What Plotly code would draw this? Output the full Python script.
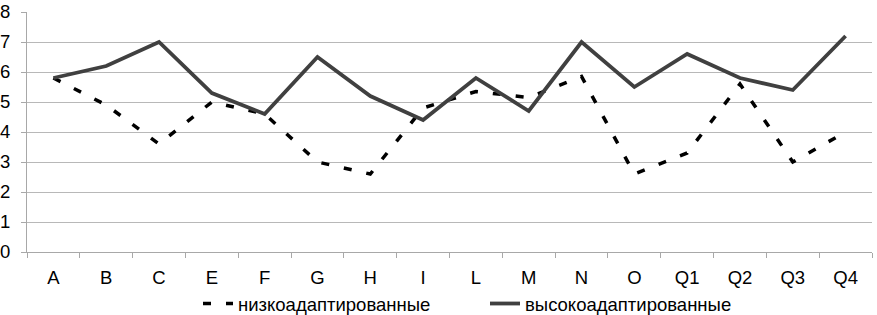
import plotly.graph_objects as go

categories = ["A", "B", "C", "E", "F", "G", "H", "I", "L", "M", "N", "O", "Q1", "Q2", "Q3", "Q4"]
low_adapted = [5.8, 4.9, 3.6, 5.0, 4.6, 3.0, 2.6, 4.8, 5.35, 5.15, 5.85, 2.6, 3.3, 5.6, 3.0, 4.0]
high_adapted = [5.8, 6.2, 7.0, 5.3, 4.6, 6.5, 5.2, 4.4, 5.8, 4.7, 7.0, 5.5, 6.6, 5.8, 5.4, 7.2]
y_ticks = [0, 1, 2, 3, 4, 5, 6, 7, 8]

fig = go.Figure()
fig.add_trace(go.Scatter(
    x=categories, y=low_adapted, mode="lines", name="низкоадаптированные",
    line=dict(color="#000000", width=3.5, dash="8px,15px"),
))
fig.add_trace(go.Scatter(
    x=categories, y=high_adapted, mode="lines", name="высокоадаптированные",
    line=dict(color="#404040", width=3.8),
))

fig.update_layout(
    width=877, height=315,
    margin=dict(l=27, r=5, t=12, b=63),
    paper_bgcolor="white", plot_bgcolor="white",
    font=dict(family="Liberation Sans, Arial, sans-serif", size=18.5, color="#000000"),
    showlegend=True,
    legend=dict(orientation="h", xref="container", yref="container",
                x=198 / 877, xanchor="left", y=0.035, yanchor="middle",
                font=dict(size=18.5), entrywidth=242, entrywidthmode="pixels",
                bgcolor="rgba(0,0,0,0)"),
    xaxis=dict(
        type="category", showgrid=False, showline=True, linecolor="#a8a8a8", linewidth=1,
        ticks="outside", tickson="boundaries", ticklen=5, tickcolor="#a8a8a8",
        range=[-0.5, len(categories) - 0.5], zeroline=False, automargin=False,
        ticklabelstandoff=9,
    ),
    yaxis=dict(
        range=[0, 8], tickvals=y_ticks, showgrid=True, gridcolor="#b8b8b8", gridwidth=1,
        showline=True, linecolor="#a8a8a8", linewidth=1, ticks="outside", ticklen=5,
        tickcolor="#a8a8a8", zeroline=False, automargin=False, ticklabelstandoff=7,
    ),
)

fig.write_html("out.html", config={"displayModeBar": False},
               post_script="document.body.style.margin='0px';")
